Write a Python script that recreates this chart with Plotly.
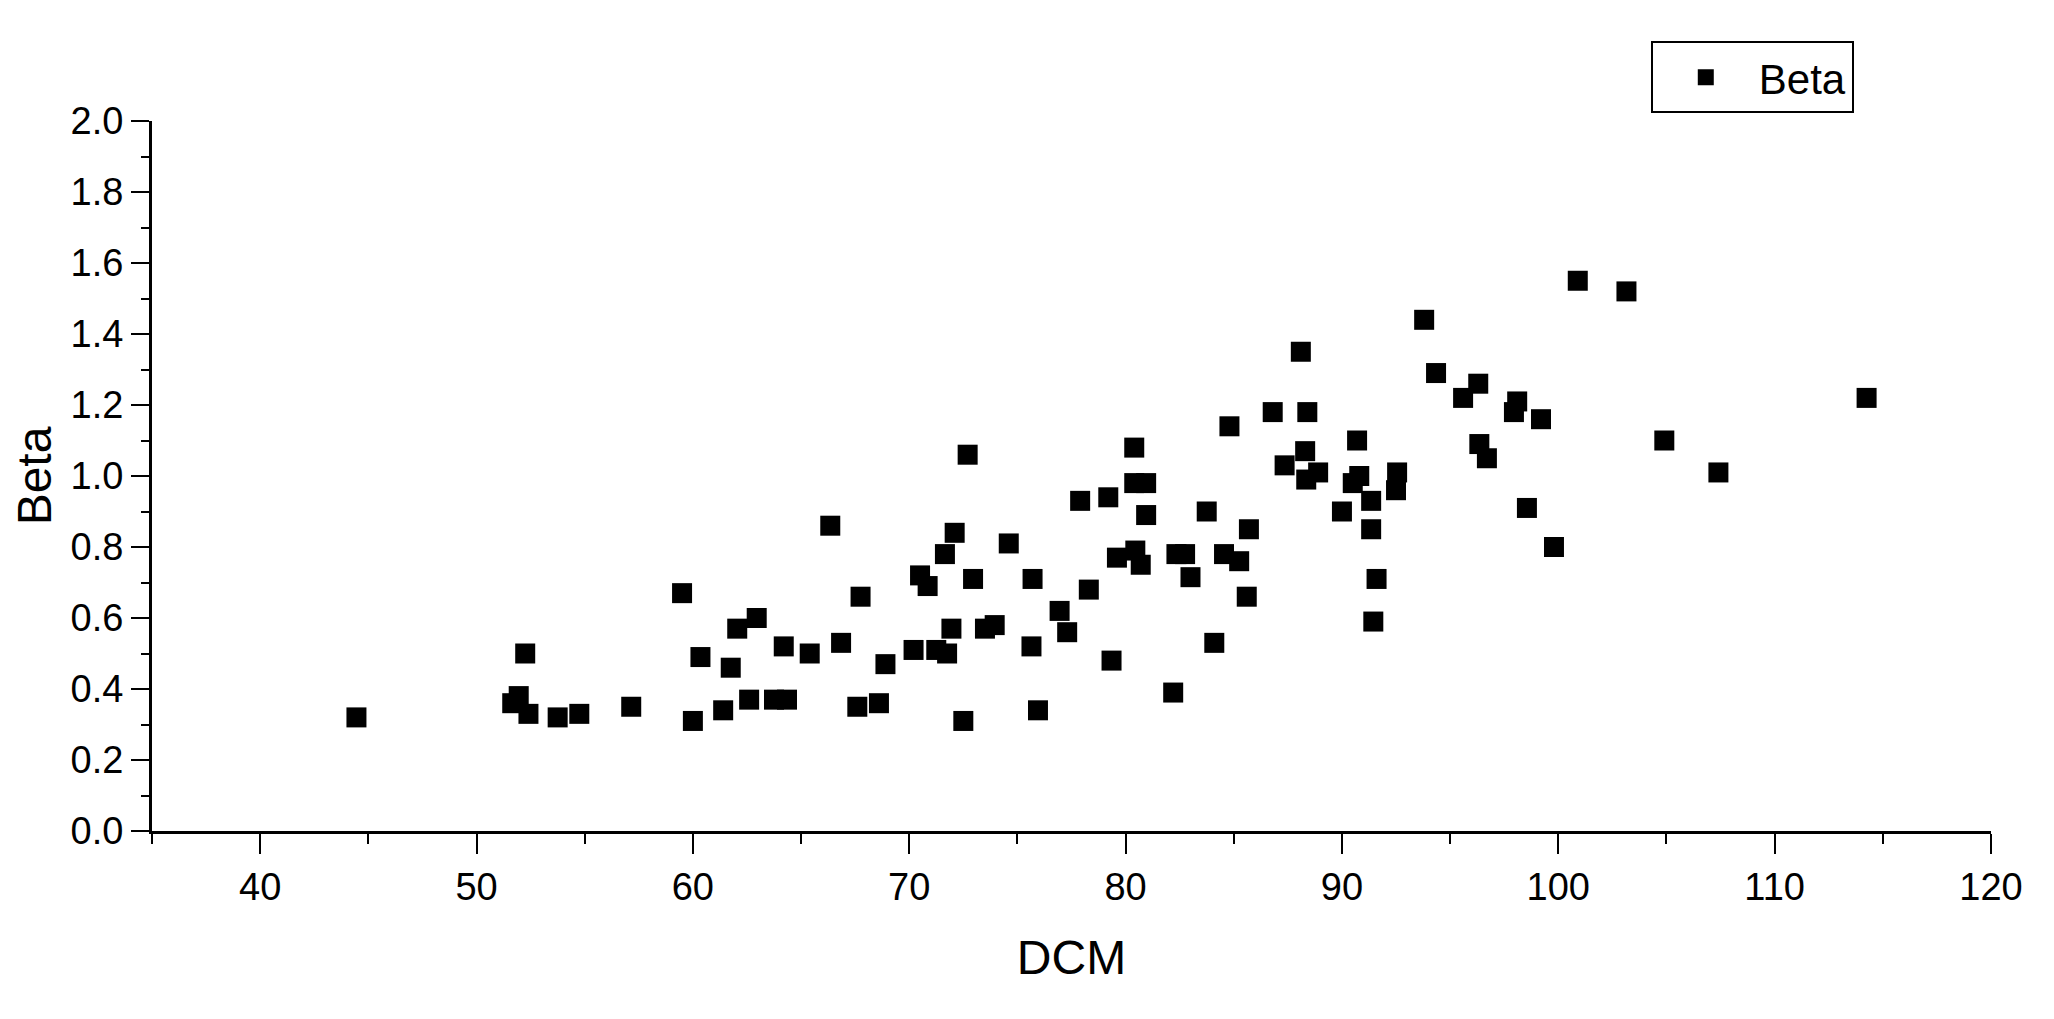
import plotly.graph_objects as go

# DCM vs Beta
dcm = [
    44.45, 51.65, 51.95, 52.25, 52.4, 53.75, 54.75, 57.15, 59.5, 60.0,
    60.35, 61.4, 61.75, 62.05, 62.95, 62.6, 63.75, 64.35, 64.2, 65.4,
    66.35, 66.85, 67.75, 67.6, 68.6, 68.9, 70.2, 70.5, 70.85, 71.25,
    71.75, 71.95, 71.65, 72.1, 72.7, 72.5, 72.95, 73.5, 73.95, 74.6,
    75.7, 75.65, 75.95, 76.95, 77.3, 77.9, 78.3, 79.2, 79.35, 79.6,
    80.4, 80.4, 80.95, 80.95, 80.45, 80.7, 82.2, 82.35, 82.75, 83.0,
    83.75, 84.1, 84.55, 85.25, 84.8, 85.7, 85.6, 86.8, 88.1, 88.4,
    87.35, 88.3, 88.9, 88.35, 90.7, 90.0, 90.8, 90.5, 91.35, 91.35,
    91.6, 91.45, 92.55, 92.5, 93.8, 94.35, 96.3, 95.6, 98.1, 97.95,
    99.2, 96.35, 96.7, 98.55, 99.8, 100.9, 103.15, 104.9, 107.4, 114.25,
]
beta = [
    0.32, 0.36, 0.38, 0.50, 0.33, 0.32, 0.33, 0.35, 0.67, 0.31,
    0.49, 0.34, 0.46, 0.57, 0.60, 0.37, 0.37, 0.37, 0.52, 0.50,
    0.86, 0.53, 0.66, 0.35, 0.36, 0.47, 0.51, 0.72, 0.69, 0.51,
    0.50, 0.57, 0.78, 0.84, 1.06, 0.31, 0.71, 0.57, 0.58, 0.81,
    0.71, 0.52, 0.34, 0.62, 0.56, 0.93, 0.68, 0.94, 0.48, 0.77,
    1.08, 0.98, 0.98, 0.89, 0.79, 0.75, 0.39, 0.78, 0.78, 0.715,
    0.90, 0.53, 0.78, 0.76, 1.14, 0.85, 0.66, 1.18, 1.35, 1.18,
    1.03, 1.07, 1.01, 0.99, 1.10, 0.90, 1.00, 0.98, 0.93, 0.85,
    0.71, 0.59, 1.01, 0.96, 1.44, 1.29, 1.26, 1.22, 1.21, 1.18,
    1.16, 1.09, 1.05, 0.91, 0.80, 1.55, 1.52, 1.10, 1.01, 1.22,
]

FONT = "Arial, 'Liberation Sans', sans-serif"

fig = go.Figure()
fig.add_trace(go.Scatter(
    x=dcm, y=beta, mode="markers", name="Beta",
    marker=dict(symbol="square", size=20, color="black", line=dict(width=0)),
))

axis_common = dict(
    showline=True, linewidth=3, linecolor="black",
    showgrid=False, zeroline=False, mirror=False,
    ticks="outside", tickwidth=2, tickcolor="black",
    tickfont=dict(family=FONT, size=38, color="black"),
)

fig.update_xaxes(
    range=[35, 120], tick0=40, dtick=10, ticklen=20,
    minor=dict(ticks="outside", dtick=5, ticklen=10, tickwidth=2, tickcolor="black"),
    title=dict(text="DCM", font=dict(family=FONT, size=48, color="black"), standoff=34),
    **axis_common,
)
fig.update_yaxes(
    range=[0, 2], dtick=0.2, tickformat=".1f", ticklen=18,
    minor=dict(ticks="outside", dtick=0.1, ticklen=8, tickwidth=2, tickcolor="black"),
    title=dict(text="Beta", font=dict(family=FONT, size=48, color="black"), standoff=4),
    **axis_common,
)

# page body has an 8px margin, so the figure is 8px smaller than the window
fig.update_layout(
    width=2046, height=1011,
    margin=dict(l=144, r=63, t=113, b=188),
    paper_bgcolor="white", plot_bgcolor="white",
    showlegend=True,
    legend=dict(
        x=0.815, y=1.112, xanchor="left", yanchor="top",
        bordercolor="black", borderwidth=2, bgcolor="white",
        font=dict(family=FONT, size=42, color="black"),
        itemwidth=96,
    ),
)

fig.write_html("out.html")
